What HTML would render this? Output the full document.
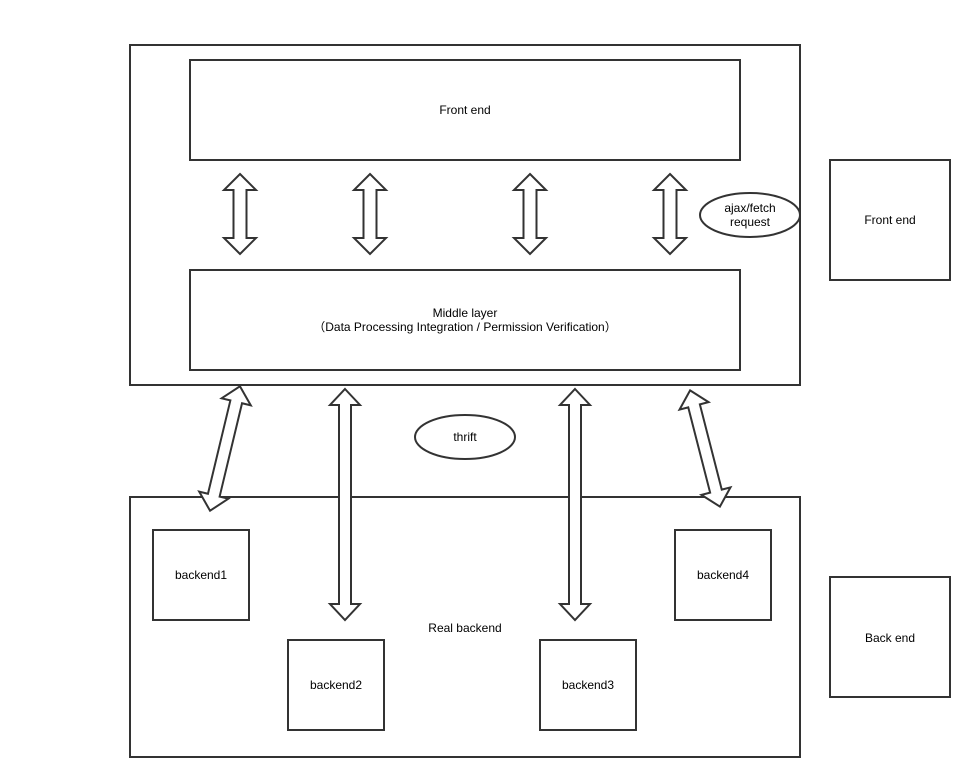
<!DOCTYPE html>
<html><head><meta charset="utf-8"><style>
html,body{margin:0;padding:0;background:#fff;}
svg{display:block;}
text{font-family:"Liberation Sans",Arial,sans-serif;font-size:12px;fill:#000;}
</style></head><body>
<svg width="970" height="777" viewBox="0 0 970 777" xmlns="http://www.w3.org/2000/svg">
<defs>
<polygon id="a80" points="0,-40 16,-24 6.5,-24 6.5,24 16,24 0,40 -16,24 -6.5,24 -6.5,-24 -16,-24" fill="#fff" stroke="#333" stroke-width="2"/>
<polygon id="a231" points="0,-115.5 15,-99.5 6,-99.5 6,99.5 15,99.5 0,115.5 -15,99.5 -6,99.5 -6,-99.5 -15,-99.5" fill="#fff" stroke="#333" stroke-width="2"/>
</defs>
<g fill="#fff" stroke="#333" stroke-width="2">
<rect x="130" y="45" width="670" height="340"/>
<rect x="190" y="60" width="550" height="100"/>
<rect x="190" y="270" width="550" height="100"/>
<rect x="830" y="160" width="120" height="120"/>
<rect x="830" y="577" width="120" height="120"/>
<rect x="130" y="497" width="670" height="260"/>
<rect x="153" y="530" width="96" height="90"/>
<rect x="288" y="640" width="96" height="90"/>
<rect x="540" y="640" width="96" height="90"/>
<rect x="675" y="530" width="96" height="90"/>
<ellipse cx="750" cy="215" rx="50" ry="22"/>
<ellipse cx="465" cy="437" rx="50" ry="22"/>
</g>
<use href="#a80" x="240" y="214"/>
<use href="#a80" x="370" y="214"/>
<use href="#a80" x="530" y="214"/>
<use href="#a80" x="670" y="214"/>
<use href="#a231" x="345" y="504.5"/>
<use href="#a231" x="575" y="504.5"/>
<g transform="translate(225,448.5) rotate(13.5)">
<polygon points="0,-64 15,-48 6,-48 6,48 15,48 0,64 -15,48 -6,48 -6,-48 -15,-48" fill="#fff" stroke="#333" stroke-width="2"/>
</g>
<g transform="translate(705,448.5) rotate(-14.4)">
<polygon points="0,-60 15,-44 6,-44 6,44 15,44 0,60 -15,44 -6,44 -6,-44 -15,-44" fill="#fff" stroke="#333" stroke-width="2"/>
</g>
<g text-anchor="middle">
<text x="465" y="114">Front end</text>
<text x="465" y="317">Middle layer</text>
<text x="465" y="331">（Data Processing Integration / Permission Verification）</text>
<text x="750" y="212">ajax/fetch</text>
<text x="750" y="226">request</text>
<text x="890" y="224">Front end</text>
<text x="890" y="642">Back end</text>
<text x="465" y="441">thrift</text>
<text x="465" y="632">Real backend</text>
<text x="201" y="579">backend1</text>
<text x="336" y="689">backend2</text>
<text x="588" y="689">backend3</text>
<text x="723" y="579">backend4</text>
</g>
</svg>
</body></html>
